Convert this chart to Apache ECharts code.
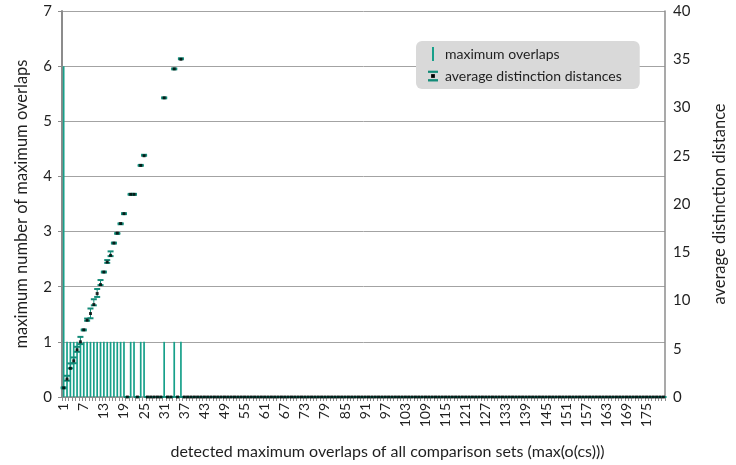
<!DOCTYPE html>
<html>
<head>
<meta charset="utf-8">
<script src="https://cdn.jsdelivr.net/npm/echarts@6/dist/echarts.min.js"></script>
<style>
  html, body { margin: 0; padding: 0; background: #ffffff; }
  #chart { width: 736px; height: 465px; }
</style>
</head>
<body>
<div id="chart"></div>
<script>
// Detected maximum overlap value of each comparison set: 1 .. 180
const categories = Array.from({ length: 180 }, (_, i) => String(i + 1));

// Maximum number of maximum overlaps (left axis)
const maxOverlaps = [
  6, 1, 1, 1, 1, 1, 1, 1, 1, 1, 1, 1, 1, 1, 1, 1, 1, 1, 1, 0, 1, 1, 0, 1,
  1, 0, 0, 0, 0, 0, 1, 0, 0, 1, 0, 1,
  0, 0, 0, 0, 0, 0, 0, 0, 0, 0, 0, 0, 0, 0, 0, 0, 0, 0, 0, 0, 0, 0, 0, 0,
  0, 0, 0, 0, 0, 0, 0, 0, 0, 0, 0, 0, 0, 0, 0, 0, 0, 0, 0, 0, 0, 0, 0, 0,
  0, 0, 0, 0, 0, 0, 0, 0, 0, 0, 0, 0, 0, 0, 0, 0, 0, 0, 0, 0, 0, 0, 0, 0,
  0, 0, 0, 0, 0, 0, 0, 0, 0, 0, 0, 0, 0, 0, 0, 0, 0, 0, 0, 0, 0, 0, 0, 0,
  0, 0, 0, 0, 0, 0, 0, 0, 0, 0, 0, 0, 0, 0, 0, 0, 0, 0, 0, 0, 0, 0, 0, 0,
  0, 0, 0, 0, 0, 0, 0, 0, 0, 0, 0, 0, 0, 0, 0, 0, 0, 0, 0, 0, 0, 0, 0, 0
];

// Average distinction distance (right axis)
const avgDistance = [
  0.95, 1.86, 2.97, 3.75, 4.89, 5.72, 6.96, 7.96, 8.65, 9.58, 10.72, 11.65,
  12.95, 13.98, 14.68, 15.95, 16.98, 17.98, 19.0, 0, 21.0, 21.0, 0, 24.0,
  25.0, 0, 0, 0, 0, 0, 31.0, 0, 0, 34.0, 0, 35.0,
  0, 0, 0, 0, 0, 0, 0, 0, 0, 0, 0, 0, 0, 0, 0, 0, 0, 0, 0, 0, 0, 0, 0, 0,
  0, 0, 0, 0, 0, 0, 0, 0, 0, 0, 0, 0, 0, 0, 0, 0, 0, 0, 0, 0, 0, 0, 0, 0,
  0, 0, 0, 0, 0, 0, 0, 0, 0, 0, 0, 0, 0, 0, 0, 0, 0, 0, 0, 0, 0, 0, 0, 0,
  0, 0, 0, 0, 0, 0, 0, 0, 0, 0, 0, 0, 0, 0, 0, 0, 0, 0, 0, 0, 0, 0, 0, 0,
  0, 0, 0, 0, 0, 0, 0, 0, 0, 0, 0, 0, 0, 0, 0, 0, 0, 0, 0, 0, 0, 0, 0, 0,
  0, 0, 0, 0, 0, 0, 0, 0, 0, 0, 0, 0, 0, 0, 0, 0, 0, 0, 0, 0, 0, 0, 0, 0
];

// Lower / upper end of the distinction distance error bars
const distLow = [
  0.9, 1.69, 2.97, 3.5, 4.68, 5.48, 6.9, 7.9, 8.16, 9.5, 10.37, 11.6,
  12.9, 13.9, 14.6, 15.9, 16.9, 17.9, 18.95, 0, 20.95, 20.95, 0, 23.95,
  25.0, 0, 0, 0, 0, 0, 30.95, 0, 0, 33.95, 0, 35.0,
  0, 0, 0, 0, 0, 0, 0, 0, 0, 0, 0, 0, 0, 0, 0, 0, 0, 0, 0, 0, 0, 0, 0, 0,
  0, 0, 0, 0, 0, 0, 0, 0, 0, 0, 0, 0, 0, 0, 0, 0, 0, 0, 0, 0, 0, 0, 0, 0,
  0, 0, 0, 0, 0, 0, 0, 0, 0, 0, 0, 0, 0, 0, 0, 0, 0, 0, 0, 0, 0, 0, 0, 0,
  0, 0, 0, 0, 0, 0, 0, 0, 0, 0, 0, 0, 0, 0, 0, 0, 0, 0, 0, 0, 0, 0, 0, 0,
  0, 0, 0, 0, 0, 0, 0, 0, 0, 0, 0, 0, 0, 0, 0, 0, 0, 0, 0, 0, 0, 0, 0, 0,
  0, 0, 0, 0, 0, 0, 0, 0, 0, 0, 0, 0, 0, 0, 0, 0, 0, 0, 0, 0, 0, 0, 0, 0
];
const distHigh = [
  1.0, 2.2, 3.48, 4.1, 5.2, 6.23, 7.0, 8.13, 9.17, 10.13, 11.19, 12.12,
  13.0, 14.19, 15.09, 16.0, 17.0, 18.0, 19.05, 0, 21.05, 21.05, 0, 24.05,
  25.1, 0, 0, 0, 0, 0, 31.05, 0, 0, 34.05, 0, 35.1,
  0, 0, 0, 0, 0, 0, 0, 0, 0, 0, 0, 0, 0, 0, 0, 0, 0, 0, 0, 0, 0, 0, 0, 0,
  0, 0, 0, 0, 0, 0, 0, 0, 0, 0, 0, 0, 0, 0, 0, 0, 0, 0, 0, 0, 0, 0, 0, 0,
  0, 0, 0, 0, 0, 0, 0, 0, 0, 0, 0, 0, 0, 0, 0, 0, 0, 0, 0, 0, 0, 0, 0, 0,
  0, 0, 0, 0, 0, 0, 0, 0, 0, 0, 0, 0, 0, 0, 0, 0, 0, 0, 0, 0, 0, 0, 0, 0,
  0, 0, 0, 0, 0, 0, 0, 0, 0, 0, 0, 0, 0, 0, 0, 0, 0, 0, 0, 0, 0, 0, 0, 0,
  0, 0, 0, 0, 0, 0, 0, 0, 0, 0, 0, 0, 0, 0, 0, 0, 0, 0, 0, 0, 0, 0, 0, 0
];

const TEAL = '#17a08a';
const CAP = '#138b78';
const AXIS = '#8c8c8c';
const TEXT = '#1f1f1f';
const FONT = 'Lato, "Open Sans", sans-serif';

// two-colour legend glyph for the error-bar series
const errIcon = 'image://data:image/svg+xml;utf8,' + encodeURIComponent(
  '<svg xmlns="http://www.w3.org/2000/svg" width="8" height="9" viewBox="0 0 8 9">' +
  '<rect x="0" y="0" width="8" height="2" fill="' + CAP + '"/>' +
  '<rect x="0" y="7" width="8" height="2" fill="' + CAP + '"/>' +
  '<rect x="2.5" y="3" width="3" height="3" fill="#000"/></svg>');

const errorData = categories.map((c, i) => [i, distLow[i], distHigh[i]]);

const chart = echarts.init(document.getElementById('chart'), null, { renderer: 'canvas' });

chart.setOption({
  animation: false,
  textStyle: { fontFamily: FONT },
  grid: { left: 62, right: 63, top: 11, bottom: 67 },
  legend: {
    left: 416,
    top: 41,
    orient: 'vertical',
    backgroundColor: '#d9d9d9',
    borderRadius: 6,
    padding: [6, 18, 6, 12],
    itemGap: 8,
    itemWidth: 10,
    itemHeight: 14,
    textStyle: { fontFamily: FONT, fontSize: 14, color: TEXT, padding: [0, 0, 0, 2] },
    data: [
      { name: 'maximum overlaps', icon: 'path://M0,0 L2,0 L2,14 L0,14 Z' },
      { name: 'average distinction distances', icon: errIcon }
    ]
  },
  xAxis: {
    type: 'category',
    data: categories,
    boundaryGap: true,
    axisLine: { lineStyle: { color: AXIS, width: 1.5 } },
    axisTick: { show: true, interval: 0, length: 4, lineStyle: { color: AXIS } },
    axisLabel: { interval: 5, rotate: 90, fontSize: 14, color: TEXT, margin: 6 },
    splitLine: { show: false },
    name: 'detected maximum overlaps of all comparison sets (max(o(cs)))',
    nameLocation: 'middle',
    nameGap: 47,
    nameTextStyle: { fontSize: 16, color: TEXT, padding: [0, 0, 0, 48] }
  },
  yAxis: [
    {
      type: 'value',
      position: 'left',
      min: 0, max: 7, interval: 1,
      axisLine: { show: true, lineStyle: { color: AXIS, width: 2 } },
      axisTick: { show: true, length: 4, lineStyle: { color: AXIS } },
      axisLabel: { fontSize: 15, color: TEXT, margin: 10 },
      splitLine: { show: true, lineStyle: { color: '#a3a3a3', width: 1 } },
      name: 'maximum number of maximum overlaps',
      nameLocation: 'middle',
      nameGap: 32,
      nameTextStyle: { fontSize: 16.5, color: TEXT }
    },
    {
      type: 'value',
      position: 'right',
      min: 0, max: 40, interval: 5,
      axisLine: { show: true, lineStyle: { color: AXIS, width: 1.5 } },
      axisTick: { show: false },
      axisLabel: { fontSize: 15, color: TEXT, margin: 8 },
      splitLine: { show: false },
      name: 'average distinction distance',
      nameLocation: 'middle',
      nameGap: 46,
      nameTextStyle: { fontSize: 16.5, color: TEXT }
    }
  ],
  series: [
    {
      name: 'maximum overlaps',
      type: 'bar',
      yAxisIndex: 0,
      data: maxOverlaps,
      barWidth: 1.7,
      itemStyle: { color: TEAL },
      z: 2
    },
    {
      name: 'average distinction distances',
      type: 'custom',
      yAxisIndex: 1,
      data: errorData,
      encode: { x: 0, y: [1, 2] },
      renderItem: function (params, api) {
        const idx = api.value(0);
        const lo = api.coord([idx, api.value(1)]);
        const hi = api.coord([idx, api.value(2)]);
        const half = 3;
        return {
          type: 'group',
          children: [
            { type: 'line', shape: { x1: lo[0], y1: lo[1], x2: hi[0], y2: hi[1] },
              style: { stroke: CAP, lineWidth: 1 } },
            { type: 'line', shape: { x1: lo[0] - half, y1: lo[1], x2: lo[0] + half, y2: lo[1] },
              style: { stroke: CAP, lineWidth: 2 } },
            { type: 'line', shape: { x1: hi[0] - half, y1: hi[1], x2: hi[0] + half, y2: hi[1] },
              style: { stroke: CAP, lineWidth: 2 } }
          ]
        };
      },
      z: 3
    },
    {
      name: 'average distinction distances',
      type: 'scatter',
      yAxisIndex: 1,
      data: avgDistance,
      symbol: 'rect',
      symbolSize: 3,
      itemStyle: { color: '#000000' },
      z: 4
    }
  ]
});
</script>
</body>
</html>
